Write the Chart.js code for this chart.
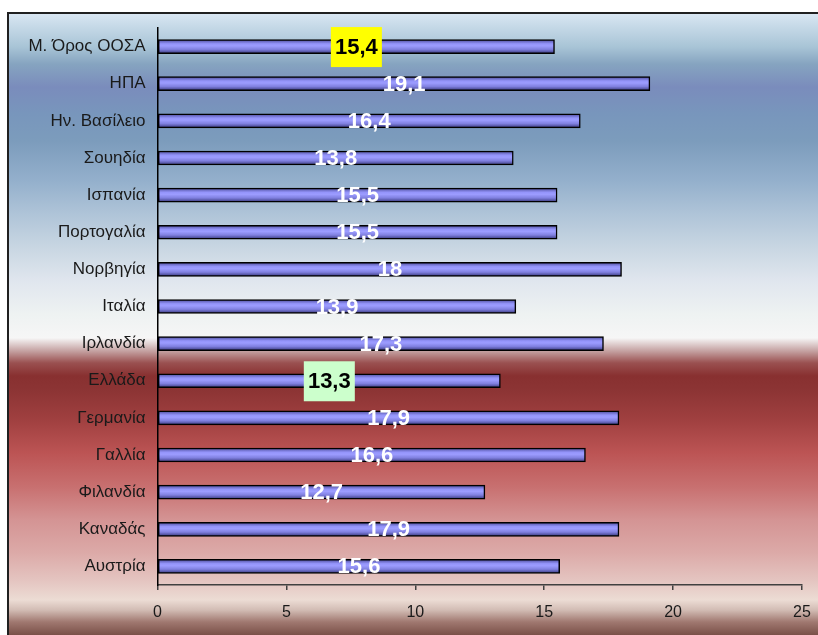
<!DOCTYPE html>
<html>
<head>
<meta charset="utf-8">
<script src="https://cdn.jsdelivr.net/npm/chart.js@4/dist/chart.umd.min.js"></script>
<style>
  html, body { margin: 0; padding: 0; background: #ffffff; }
  canvas { display: block; }
</style>
</head>
<body>
<canvas id="c" width="818" height="635"></canvas>
<script>
// Countries (top to bottom) and their values
const categories = [
  'Μ. Όρος ΟΟΣΑ', 'ΗΠΑ', 'Ην. Βασίλειο', 'Σουηδία', 'Ισπανία',
  'Πορτογαλία', 'Νορβηγία', 'Ιταλία', 'Ιρλανδία', 'Ελλάδα',
  'Γερμανία', 'Γαλλία', 'Φιλανδία', 'Καναδάς', 'Αυστρία'
];
const values = [15.4, 19.1, 16.4, 13.8, 15.5, 15.5, 18, 13.9, 17.3, 13.3, 17.9, 16.6, 12.7, 17.9, 15.6];
const xTicks = [0, 5, 10, 15, 20, 25];

// Value labels that get a coloured box behind them
const labelBoxColors = { 'Μ. Όρος ΟΟΣΑ': '#ffff00', 'Ελλάδα': '#ccffcc' };

const FONT = "'Liberation Sans', Arial, Helvetica, sans-serif";
const BAR_H = 14;

// Framed panel with the vertical blue → white → red gradient
const panelBackground = {
  id: 'panelBackground',
  beforeDraw(chart) {
    const c = chart.ctx;
    const W = chart.width, H = chart.height;
    const x0 = 8, y0 = 13;
    c.save();
    c.fillStyle = '#ffffff';
    c.fillRect(0, 0, W, H);
    const g = c.createLinearGradient(0, y0, 0, H);
    const stops = [
      [14, '#d8e6f2'], [47, '#a8c4d6'], [64, '#86a4c0'], [87, '#7a8cbc'],
      [114, '#7896bc'], [141, '#7c9cbc'], [181, '#94b0cc'], [214, '#afc4d8'],
      [247, '#c8d6e2'], [281, '#e0e6ee'], [314, '#eef2f2'], [338, '#f6f6f6'],
      [350, '#c8a8a8'], [363, '#9a5050'], [376, '#883030'], [390, '#8c3434'],
      [420, '#a04040'], [453, '#bc5454'], [487, '#c87070'], [520, '#d49494'],
      [553, '#dcaaa8'], [580, '#e4c4c0'], [600, '#ecdcd4'], [610, '#d2bcb4'],
      [622, '#a07870'], [635, '#7a5048']
    ];
    stops.forEach(([y, col]) => g.addColorStop(Math.min(1, Math.max(0, (y - y0) / (H - y0))), col));
    c.fillStyle = g;
    c.fillRect(x0, y0, W - x0, H - y0);
    c.strokeStyle = '#202020';
    c.lineWidth = 2;
    c.beginPath();
    c.moveTo(x0, H);
    c.lineTo(x0, y0);
    c.lineTo(W, y0);
    c.stroke();
    c.restore();
  }
};

// Value labels centred on each bar
const valueLabels = {
  id: 'valueLabels',
  afterDatasetsDraw(chart) {
    const c = chart.ctx;
    const meta = chart.getDatasetMeta(0);
    c.save();
    c.textAlign = 'center';
    c.textBaseline = 'middle';
    c.font = 'bold 22px ' + FONT;
    meta.data.forEach((bar, i) => {
      const text = String(values[i]).replace('.', ',');
      const cx = (bar.base + bar.x) / 2;
      const cy = bar.y;
      const box = labelBoxColors[categories[i]];
      if (box) {
        c.fillStyle = box;
        c.fillRect(cx - 25.5, cy - 19.5, 51, 40);
        c.fillStyle = '#000000';
      } else {
        c.fillStyle = '#ffffff';
      }
      c.fillText(text, cx, cy + 1);
    });
    c.restore();
  }
};

// Cylinder-like shading across each bar's thickness
function barFill(ctx) {
  const chart = ctx.chart;
  const yScale = chart.scales && chart.scales.y;
  if (!yScale || ctx.type !== 'data') return '#9090f0';
  const yc = yScale.getPixelForValue(ctx.dataIndex);
  if (!Number.isFinite(yc)) return '#9090f0';
  const g = chart.ctx.createLinearGradient(0, yc - BAR_H / 2, 0, yc + BAR_H / 2);
  g.addColorStop(0, '#4a4a98');
  g.addColorStop(0.3, '#9494fa');
  g.addColorStop(0.45, '#9c9cff');
  g.addColorStop(0.7, '#8080e0');
  g.addColorStop(1, '#363678');
  return g;
}

new Chart(document.getElementById('c'), {
  type: 'bar',
  data: {
    labels: categories,
    datasets: [{
      data: values,
      backgroundColor: barFill,
      borderColor: '#000000',
      borderWidth: 1.5,
      borderSkipped: false,
      barThickness: BAR_H
    }]
  },
  options: {
    indexAxis: 'y',
    responsive: false,
    devicePixelRatio: 1,
    animation: false,
    events: [],
    layout: { padding: { left: 0, top: 28, right: 16, bottom: 0 } },
    plugins: {
      legend: { display: false },
      tooltip: { enabled: false }
    },
    scales: {
      x: {
        min: 0,
        max: 25,
        afterBuildTicks(scale) { scale.ticks = xTicks.map(v => ({ value: v })); },
        afterFit(scale) { scale.height = 50; scale.paddingRight = 0; scale.paddingLeft = 0; },
        grid: { drawOnChartArea: false, drawTicks: true, tickLength: 5, color: '#404040', lineWidth: 1.5 },
        border: { display: true, color: '#404040', width: 1.5 },
        ticks: { color: '#1a1a1a', font: { family: FONT, size: 16 }, padding: 13, maxRotation: 0 }
      },
      y: {
        afterFit(scale) { scale.width = 157.5; },
        grid: { display: false, drawTicks: false },
        border: { display: true, color: '#000000', width: 1.5 },
        ticks: { color: '#1a1a1a', font: { family: FONT, size: 17 }, padding: 12, autoSkip: false }
      }
    }
  },
  plugins: [panelBackground, valueLabels]
});
</script>
</body>
</html>
